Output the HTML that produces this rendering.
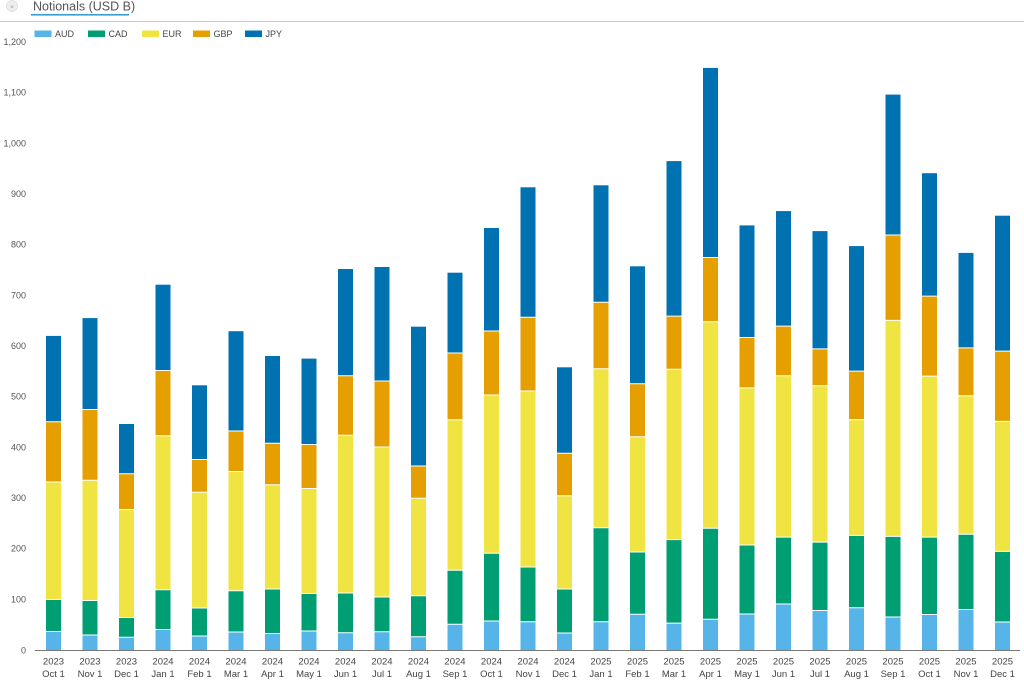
<!DOCTYPE html>
<html><head><meta charset="utf-8"><style>
html,body{margin:0;padding:0;background:#fff;overflow:hidden;width:1024px;height:682px;}
svg{display:block;font-family:"Liberation Sans",Arial,sans-serif;overflow:hidden;}
.a{fill:#56b4e9}.c{fill:#009e73}.e{fill:#f0e442}.g{fill:#e69f00}.j{fill:#0072b2}
.sep{stroke:#fff;stroke-width:1;fill:none}
.yl{font-size:9px;fill:#555;text-anchor:end}
.xl{font-size:9.5px;fill:#444;text-anchor:middle}
.lg{font-size:9px;fill:#444}
</style></head><body>
<svg width="1024" height="682" viewBox="0 0 1024 682" xmlns="http://www.w3.org/2000/svg">
<rect x="0" y="0" width="1024" height="682" fill="#fff"/>
<!-- header -->
<circle cx="12" cy="6" r="5.5" fill="#eee" stroke="#ddd" stroke-width="0.8"/>
<text x="12" y="8.5" font-size="6" fill="#999" text-anchor="middle">»</text>
<text x="33" y="10.5" font-size="12.5" fill="#555">Notionals (USD B)</text>
<rect x="31" y="14" width="98" height="1.6" fill="#3a9fd0"/>
<rect x="0" y="21" width="1024" height="1" fill="#c8c8c8"/>
<!-- legend -->
<rect x="34.5" y="30.5" width="17" height="6.5" class="a"/><text x="55" y="37" class="lg">AUD</text>
<rect x="88" y="30.5" width="17" height="6.5" class="c"/><text x="108.5" y="37" class="lg">CAD</text>
<rect x="142" y="30.5" width="17" height="6.5" class="e"/><text x="162.5" y="37" class="lg">EUR</text>
<rect x="193" y="30.5" width="17" height="6.5" class="g"/><text x="213.5" y="37" class="lg">GBP</text>
<rect x="245" y="30.5" width="17" height="6.5" class="j"/><text x="265.5" y="37" class="lg">JPY</text>
<!-- y labels -->
<text x="26" y="45" class="yl">1,200</text>
<text x="26" y="95.7" class="yl">1,100</text>
<text x="26" y="146.3" class="yl">1,000</text>
<text x="26" y="197" class="yl">900</text>
<text x="26" y="247.7" class="yl">800</text>
<text x="26" y="298.3" class="yl">700</text>
<text x="26" y="349" class="yl">600</text>
<text x="26" y="399.7" class="yl">500</text>
<text x="26" y="450.3" class="yl">400</text>
<text x="26" y="501" class="yl">300</text>
<text x="26" y="551.7" class="yl">200</text>
<text x="26" y="602.3" class="yl">100</text>
<text x="26" y="653.5" class="yl">0</text>
<!-- bars -->
<g transform="translate(46,0)"><rect class="j" y="335.9" width="15" height="314.1"/><rect class="g" y="421.7" width="15" height="228.3"/><rect class="e" y="482" width="15" height="168"/><rect class="c" y="599.5" width="15" height="50.5"/><rect class="a" y="631.5" width="15" height="18.5"/><path class="sep" d="M0 631.5h15M0 599.5h15M0 482h15M0 421.7h15"/></g>
<g transform="translate(82.5,0)"><rect class="j" y="318.1" width="15" height="331.9"/><rect class="g" y="409.5" width="15" height="240.5"/><rect class="e" y="480.3" width="15" height="169.7"/><rect class="c" y="600.5" width="15" height="49.5"/><rect class="a" y="635" width="15" height="15"/><path class="sep" d="M0 635h15M0 600.5h15M0 480.3h15M0 409.5h15"/></g>
<g transform="translate(119,0)"><rect class="j" y="424" width="15" height="226"/><rect class="g" y="473.8" width="15" height="176.2"/><rect class="e" y="509.5" width="15" height="140.5"/><rect class="c" y="617.5" width="15" height="32.5"/><rect class="a" y="637.3" width="15" height="12.7"/><path class="sep" d="M0 637.3h15M0 617.5h15M0 509.5h15M0 473.8h15"/></g>
<g transform="translate(155.5,0)"><rect class="j" y="284.7" width="15" height="365.3"/><rect class="g" y="370.5" width="15" height="279.5"/><rect class="e" y="435.7" width="15" height="214.3"/><rect class="c" y="589.8" width="15" height="60.2"/><rect class="a" y="629.5" width="15" height="20.5"/><path class="sep" d="M0 629.5h15M0 589.8h15M0 435.7h15M0 370.5h15"/></g>
<g transform="translate(192,0)"><rect class="j" y="385.3" width="15" height="264.7"/><rect class="g" y="459.5" width="15" height="190.5"/><rect class="e" y="492.3" width="15" height="157.7"/><rect class="c" y="608" width="15" height="42"/><rect class="a" y="636" width="15" height="14"/><path class="sep" d="M0 636h15M0 608h15M0 492.3h15M0 459.5h15"/></g>
<g transform="translate(228.5,0)"><rect class="j" y="331.2" width="15" height="318.8"/><rect class="g" y="431" width="15" height="219"/><rect class="e" y="471.5" width="15" height="178.5"/><rect class="c" y="590.7" width="15" height="59.3"/><rect class="a" y="632" width="15" height="18"/><path class="sep" d="M0 632h15M0 590.7h15M0 471.5h15M0 431h15"/></g>
<g transform="translate(265,0)"><rect class="j" y="356" width="15" height="294"/><rect class="g" y="443.2" width="15" height="206.8"/><rect class="e" y="484.8" width="15" height="165.2"/><rect class="c" y="589" width="15" height="61"/><rect class="a" y="633.5" width="15" height="16.5"/><path class="sep" d="M0 633.5h15M0 589h15M0 484.8h15M0 443.2h15"/></g>
<g transform="translate(301.5,0)"><rect class="j" y="358.6" width="15" height="291.4"/><rect class="g" y="444.5" width="15" height="205.5"/><rect class="e" y="488.5" width="15" height="161.5"/><rect class="c" y="593.5" width="15" height="56.5"/><rect class="a" y="631" width="15" height="19"/><path class="sep" d="M0 631h15M0 593.5h15M0 488.5h15M0 444.5h15"/></g>
<g transform="translate(338,0)"><rect class="j" y="269" width="15" height="381"/><rect class="g" y="375.7" width="15" height="274.3"/><rect class="e" y="435.3" width="15" height="214.7"/><rect class="c" y="593" width="15" height="57"/><rect class="a" y="632.7" width="15" height="17.3"/><path class="sep" d="M0 632.7h15M0 593h15M0 435.3h15M0 375.7h15"/></g>
<g transform="translate(374.5,0)"><rect class="j" y="267" width="15" height="383"/><rect class="g" y="381" width="15" height="269"/><rect class="e" y="447" width="15" height="203"/><rect class="c" y="597" width="15" height="53"/><rect class="a" y="631.7" width="15" height="18.3"/><path class="sep" d="M0 631.7h15M0 597h15M0 447h15M0 381h15"/></g>
<g transform="translate(411,0)"><rect class="j" y="326.7" width="15" height="323.3"/><rect class="g" y="466" width="15" height="184"/><rect class="e" y="498.3" width="15" height="151.7"/><rect class="c" y="595.7" width="15" height="54.3"/><rect class="a" y="636.7" width="15" height="13.3"/><path class="sep" d="M0 636.7h15M0 595.7h15M0 498.3h15M0 466h15"/></g>
<g transform="translate(447.5,0)"><rect class="j" y="272.7" width="15" height="377.3"/><rect class="g" y="353" width="15" height="297"/><rect class="e" y="419.7" width="15" height="230.3"/><rect class="c" y="570.3" width="15" height="79.7"/><rect class="a" y="624.3" width="15" height="25.7"/><path class="sep" d="M0 624.3h15M0 570.3h15M0 419.7h15M0 353h15"/></g>
<g transform="translate(484,0)"><rect class="j" y="228" width="15" height="422"/><rect class="g" y="331" width="15" height="319"/><rect class="e" y="395" width="15" height="255"/><rect class="c" y="553.3" width="15" height="96.7"/><rect class="a" y="621" width="15" height="29"/><path class="sep" d="M0 621h15M0 553.3h15M0 395h15M0 331h15"/></g>
<g transform="translate(520.5,0)"><rect class="j" y="187.3" width="15" height="462.7"/><rect class="g" y="317.3" width="15" height="332.7"/><rect class="e" y="391" width="15" height="259"/><rect class="c" y="567" width="15" height="83"/><rect class="a" y="621.7" width="15" height="28.3"/><path class="sep" d="M0 621.7h15M0 567h15M0 391h15M0 317.3h15"/></g>
<g transform="translate(557,0)"><rect class="j" y="367.3" width="15" height="282.7"/><rect class="g" y="453.3" width="15" height="196.7"/><rect class="e" y="495.7" width="15" height="154.3"/><rect class="c" y="589" width="15" height="61"/><rect class="a" y="633" width="15" height="17"/><path class="sep" d="M0 633h15M0 589h15M0 495.7h15M0 453.3h15"/></g>
<g transform="translate(593.5,0)"><rect class="j" y="185.3" width="15" height="464.7"/><rect class="g" y="302.3" width="15" height="347.7"/><rect class="e" y="368.7" width="15" height="281.3"/><rect class="c" y="527.7" width="15" height="122.3"/><rect class="a" y="621.7" width="15" height="28.3"/><path class="sep" d="M0 621.7h15M0 527.7h15M0 368.7h15M0 302.3h15"/></g>
<g transform="translate(630,0)"><rect class="j" y="266.3" width="15" height="383.7"/><rect class="g" y="383.7" width="15" height="266.3"/><rect class="e" y="436.7" width="15" height="213.3"/><rect class="c" y="552" width="15" height="98"/><rect class="a" y="614.3" width="15" height="35.7"/><path class="sep" d="M0 614.3h15M0 552h15M0 436.7h15M0 383.7h15"/></g>
<g transform="translate(666.5,0)"><rect class="j" y="161.1" width="15" height="488.9"/><rect class="g" y="316.1" width="15" height="333.9"/><rect class="e" y="369.3" width="15" height="280.7"/><rect class="c" y="539.6" width="15" height="110.4"/><rect class="a" y="623.1" width="15" height="26.9"/><path class="sep" d="M0 623.1h15M0 539.6h15M0 369.3h15M0 316.1h15"/></g>
<g transform="translate(703,0)"><rect class="j" y="67.9" width="15" height="582.1"/><rect class="g" y="257.5" width="15" height="392.5"/><rect class="e" y="321.8" width="15" height="328.2"/><rect class="c" y="528.2" width="15" height="121.8"/><rect class="a" y="619.3" width="15" height="30.7"/><path class="sep" d="M0 619.3h15M0 528.2h15M0 321.8h15M0 257.5h15"/></g>
<g transform="translate(739.5,0)"><rect class="j" y="225.4" width="15" height="424.6"/><rect class="g" y="337.5" width="15" height="312.5"/><rect class="e" y="387.9" width="15" height="262.1"/><rect class="c" y="545" width="15" height="105"/><rect class="a" y="614" width="15" height="36"/><path class="sep" d="M0 614h15M0 545h15M0 387.9h15M0 337.5h15"/></g>
<g transform="translate(776,0)"><rect class="j" y="211.1" width="15" height="438.9"/><rect class="g" y="326.1" width="15" height="323.9"/><rect class="e" y="375.7" width="15" height="274.3"/><rect class="c" y="537.1" width="15" height="112.9"/><rect class="a" y="604" width="15" height="46"/><path class="sep" d="M0 604h15M0 537.1h15M0 375.7h15M0 326.1h15"/></g>
<g transform="translate(812.5,0)"><rect class="j" y="231.1" width="15" height="418.9"/><rect class="g" y="348.9" width="15" height="301.1"/><rect class="e" y="385.7" width="15" height="264.3"/><rect class="c" y="542.1" width="15" height="107.9"/><rect class="a" y="610.5" width="15" height="39.5"/><path class="sep" d="M0 610.5h15M0 542.1h15M0 385.7h15M0 348.9h15"/></g>
<g transform="translate(849,0)"><rect class="j" y="246.1" width="15" height="403.9"/><rect class="g" y="371.1" width="15" height="278.9"/><rect class="e" y="419.6" width="15" height="230.4"/><rect class="c" y="535.4" width="15" height="114.6"/><rect class="a" y="607.8" width="15" height="42.2"/><path class="sep" d="M0 607.8h15M0 535.4h15M0 419.6h15M0 371.1h15"/></g>
<g transform="translate(885.5,0)"><rect class="j" y="94.6" width="15" height="555.4"/><rect class="g" y="235" width="15" height="415"/><rect class="e" y="320.4" width="15" height="329.6"/><rect class="c" y="536.4" width="15" height="113.6"/><rect class="a" y="617" width="15" height="33"/><path class="sep" d="M0 617h15M0 536.4h15M0 320.4h15M0 235h15"/></g>
<g transform="translate(922,0)"><rect class="j" y="173.2" width="15" height="476.8"/><rect class="g" y="296.1" width="15" height="353.9"/><rect class="e" y="376.1" width="15" height="273.9"/><rect class="c" y="537.1" width="15" height="112.9"/><rect class="a" y="614.5" width="15" height="35.5"/><path class="sep" d="M0 614.5h15M0 537.1h15M0 376.1h15M0 296.1h15"/></g>
<g transform="translate(958.5,0)"><rect class="j" y="252.9" width="15" height="397.1"/><rect class="g" y="347.9" width="15" height="302.1"/><rect class="e" y="395.7" width="15" height="254.3"/><rect class="c" y="534.3" width="15" height="115.7"/><rect class="a" y="609.5" width="15" height="40.5"/><path class="sep" d="M0 609.5h15M0 534.3h15M0 395.7h15M0 347.9h15"/></g>
<g transform="translate(995,0)"><rect class="j" y="215.7" width="15" height="434.3"/><rect class="g" y="351.1" width="15" height="298.9"/><rect class="e" y="421.4" width="15" height="228.6"/><rect class="c" y="551.4" width="15" height="98.6"/><rect class="a" y="622" width="15" height="28"/><path class="sep" d="M0 622h15M0 551.4h15M0 421.4h15M0 351.1h15"/></g>
<line x1="35" y1="650.5" x2="1020" y2="650.5" stroke="#777" stroke-width="1"/>
<!-- x labels -->
<text x="53.5" y="664.5" class="xl">2023</text><text x="53.5" y="677" class="xl">Oct 1</text>
<text x="90" y="664.5" class="xl">2023</text><text x="90" y="677" class="xl">Nov 1</text>
<text x="126.5" y="664.5" class="xl">2023</text><text x="126.5" y="677" class="xl">Dec 1</text>
<text x="163" y="664.5" class="xl">2024</text><text x="163" y="677" class="xl">Jan 1</text>
<text x="199.5" y="664.5" class="xl">2024</text><text x="199.5" y="677" class="xl">Feb 1</text>
<text x="236" y="664.5" class="xl">2024</text><text x="236" y="677" class="xl">Mar 1</text>
<text x="272.5" y="664.5" class="xl">2024</text><text x="272.5" y="677" class="xl">Apr 1</text>
<text x="309" y="664.5" class="xl">2024</text><text x="309" y="677" class="xl">May 1</text>
<text x="345.5" y="664.5" class="xl">2024</text><text x="345.5" y="677" class="xl">Jun 1</text>
<text x="382" y="664.5" class="xl">2024</text><text x="382" y="677" class="xl">Jul 1</text>
<text x="418.5" y="664.5" class="xl">2024</text><text x="418.5" y="677" class="xl">Aug 1</text>
<text x="455" y="664.5" class="xl">2024</text><text x="455" y="677" class="xl">Sep 1</text>
<text x="491.5" y="664.5" class="xl">2024</text><text x="491.5" y="677" class="xl">Oct 1</text>
<text x="528" y="664.5" class="xl">2024</text><text x="528" y="677" class="xl">Nov 1</text>
<text x="564.5" y="664.5" class="xl">2024</text><text x="564.5" y="677" class="xl">Dec 1</text>
<text x="601" y="664.5" class="xl">2025</text><text x="601" y="677" class="xl">Jan 1</text>
<text x="637.5" y="664.5" class="xl">2025</text><text x="637.5" y="677" class="xl">Feb 1</text>
<text x="674" y="664.5" class="xl">2025</text><text x="674" y="677" class="xl">Mar 1</text>
<text x="710.5" y="664.5" class="xl">2025</text><text x="710.5" y="677" class="xl">Apr 1</text>
<text x="747" y="664.5" class="xl">2025</text><text x="747" y="677" class="xl">May 1</text>
<text x="783.5" y="664.5" class="xl">2025</text><text x="783.5" y="677" class="xl">Jun 1</text>
<text x="820" y="664.5" class="xl">2025</text><text x="820" y="677" class="xl">Jul 1</text>
<text x="856.5" y="664.5" class="xl">2025</text><text x="856.5" y="677" class="xl">Aug 1</text>
<text x="893" y="664.5" class="xl">2025</text><text x="893" y="677" class="xl">Sep 1</text>
<text x="929.5" y="664.5" class="xl">2025</text><text x="929.5" y="677" class="xl">Oct 1</text>
<text x="966" y="664.5" class="xl">2025</text><text x="966" y="677" class="xl">Nov 1</text>
<text x="1002.5" y="664.5" class="xl">2025</text><text x="1002.5" y="677" class="xl">Dec 1</text>
</svg>
</body></html>
